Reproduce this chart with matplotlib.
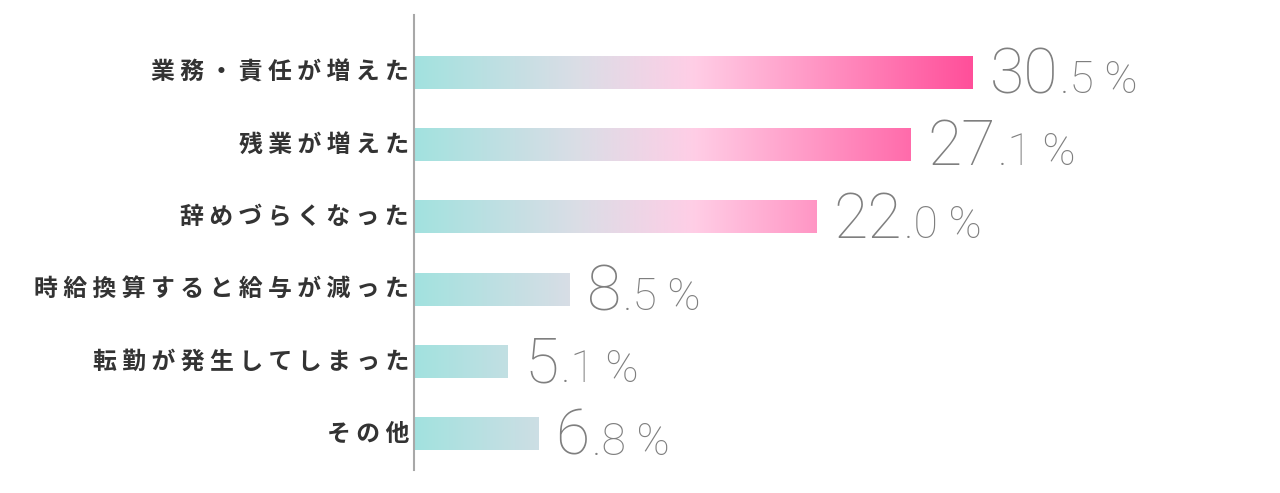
import matplotlib
matplotlib.use("Agg")
import matplotlib.pyplot as plt
import numpy as np
from matplotlib.colors import LinearSegmentedColormap

categories = [
    "業務・責任が増えた",
    "残業が増えた",
    "辞めづらくなった",
    "時給換算すると給与が減った",
    "転勤が発生してしまった",
    "その他",
]
values = [30.5, 27.1, 22.0, 8.5, 5.1, 6.8]

GRAD_COLORS = [(0.0, "#a2e2df"), (0.30, "#dcdde6"), (0.50, "#ffcee6"), (1.0, "#ff4f9a")]
TEXT_COLOR = "#333333"
NUM_COLOR = "#7f7f7f"
JP_FONT = ["Noto Sans CJK JP", "DejaVu Sans"]
NUM_FONT = ["Roboto", "DejaVu Sans"]

W, H = 1280, 493
fig = plt.figure(figsize=(W / 100, H / 100), dpi=100)
ax = fig.add_axes([414 / W, 23 / H, 1 - 414 / W, 455 / H])

cmap = LinearSegmentedColormap.from_list("tealpink", GRAD_COLORS)
grad = np.linspace(0, 1, 512).reshape(1, -1)
vmax = max(values)
bar_h = 0.46

y = np.arange(len(values))
bars = ax.barh(y, values, height=bar_h, color="none", edgecolor="none")
for bar in bars:
    y0 = bar.get_y()
    im = ax.imshow(grad, cmap=cmap, aspect="auto", interpolation="bicubic",
                   extent=[0, vmax, y0, y0 + bar.get_height()], zorder=2)
    im.set_clip_path(bar)

ax.set_xlim(0, 47.3)
ax.set_ylim(5.5, -0.79)

for s in ["top", "right", "bottom"]:
    ax.spines[s].set_visible(False)
ax.spines["left"].set_color("#a8a8a8")
ax.spines["left"].set_linewidth(1.5)
ax.set_xticks([])
ax.set_yticks([])

# category labels, letter spaced
for yi, cat in zip(y, categories):
    ax.annotate(" ".join(cat), (0, yi), xytext=(-5, 0), textcoords="offset pixels",
                ha="right", va="center", fontsize=17.2, fontweight="bold",
                color=TEXT_COLOR, family=JP_FONT)

# value labels: big integer part + smaller decimal part
fig.canvas.draw()
renderer = fig.canvas.get_renderer()
for yi, v in zip(y, values):
    whole, dec = f"{v:.1f}".split(".")
    big = ax.annotate(whole, (v, yi), xytext=(17, -21), textcoords="offset pixels",
                      ha="left", va="baseline", fontsize=45, fontweight="light",
                      color=NUM_COLOR, family=NUM_FONT)
    wbig = big.get_window_extent(renderer).width
    ax.annotate(f".{dec} %", (v, yi), xytext=(17 + wbig + 2, -21), textcoords="offset pixels",
                ha="left", va="baseline", fontsize=32, fontweight="light",
                color=NUM_COLOR, family=NUM_FONT)

fig.savefig("out.png", dpi=100, facecolor="white")
